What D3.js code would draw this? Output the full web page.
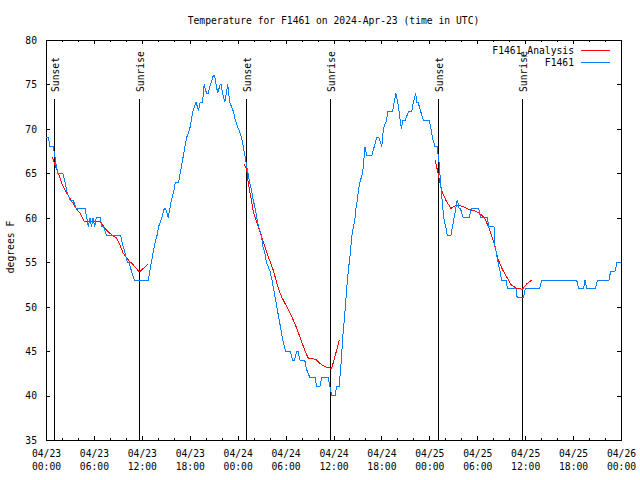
<!DOCTYPE html>
<html>
<head>
<meta charset="utf-8">
<script src="https://cdn.jsdelivr.net/npm/d3@7"></script>
<style>
  html, body { margin: 0; padding: 0; background: #fff; }
  svg { display: block; }
  text { font-family: "DejaVu Sans Mono", monospace; font-size: 9.7px; fill: #000; }
</style>
</head>
<body>
<svg id="chart" width="640" height="480"></svg>
<script>
// ---------- DATA ----------
const title = "Temperature for F1461 on 2024-Apr-23 (time in UTC)";
const yLabel = "degrees F";
const startUTC = Date.UTC(2024, 3, 23, 0, 0);
const endUTC = Date.UTC(2024, 3, 26, 0, 0);
const yTicks = [35, 40, 45, 50, 55, 60, 65, 70, 75, 80];
const xMajorHours = [0, 6, 12, 18, 24, 30, 36, 42, 48, 54, 60, 66, 72];
const seriesNames = ["F1461_Analysis", "F1461"];
const seriesColors = ["#ff0000", "#0080ff"];

// sun events: [hours since 04/23 00:00 UTC, label]
const sunEvents = [
  [1.04, "Sunset"], [11.68, "Sunrise"],
  [25.08, "Sunset"], [35.6, "Sunrise"],
  [49.12, "Sunset"], [59.64, "Sunrise"]
];

// observed temperature F1461: [hour, degF]
const observed = [
[0.0,69],[0.3,69],[0.5,68],[0.9,68],[1.1,67],[1.25,66],[1.5,65],[2.1,65],[2.4,64],[2.6,63],
[3.0,62],[3.4,62],[3.8,61],[4.9,61],[5.1,60],[5.3,59],[5.5,60],[5.7,59],[5.9,60],[6.1,59],
[6.3,60],[6.8,60],[7.0,59],[7.2,59],[7.6,58],[9.35,58],[9.6,57],[9.9,56],[10.2,55],[10.4,55],
[10.7,54],[11.05,53],[12.8,53],[13.0,54],[13.2,55],[13.4,56],[13.6,57],[13.9,58],[14.1,59],[14.5,60],
[14.8,61],[15.0,61],[15.3,60],[15.5,61],[15.7,62],[16.0,63],[16.2,64],[16.6,64],[16.8,65],[17.0,66],
[17.2,67],[17.4,68],[17.6,69],[18.0,70],[18.2,71],[18.4,72],[18.8,73],[19.1,72],[19.3,73],[19.6,73],
[19.8,75],[20.1,74],[20.3,74],[20.6,75],[20.95,76],[21.1,76],[21.3,75],[21.5,74],[21.8,75],[21.95,75],
[22.1,74],[22.4,73],[22.75,75],[23.0,73],[23.45,72],[23.7,71],[24.1,70],[24.5,69],[24.7,68],[24.9,67],
[25.1,66],[25.3,65],[25.5,64],[25.75,63],[25.95,62],[26.2,61],[26.4,60],[26.6,59],[27.0,58],[27.1,57],
[27.4,56],[27.6,55],[28.05,54],[28.3,53],[28.5,52],[28.7,51],[28.9,50],[29.1,49],[29.3,48],[29.5,47],
[29.7,46],[30.0,45],[30.55,45],[30.9,44],[31.1,44],[31.4,45],[31.55,45],[31.8,44],[32.4,44],[32.6,43],
[33.05,42],[33.7,42],[33.9,41],[34.3,41],[34.5,42],[35.35,42],[35.55,41],[35.8,40],[36.2,40],[36.4,41],
[36.7,41],[36.9,43],[37.2,47],[37.4,49],[37.65,52],[37.85,54],[38.1,56],[38.3,58],[38.5,59],[38.7,60],
[38.8,61],[39.0,62],[39.1,63],[39.3,64],[39.65,65],[39.95,68],[40.15,67],[40.8,67],[41.1,68],[41.4,69],
[41.7,69],[42.05,68],[42.25,70],[42.65,71],[42.8,72],[43.4,72],[43.6,73],[43.8,74],[44.05,73],[44.2,72],
[44.5,70],[44.7,71],[45.0,71],[45.4,72],[45.8,72],[46.0,73],[46.3,74],[46.4,73],[46.6,73],[46.9,72],
[47.25,71],[48.0,71],[48.2,70],[48.4,69],[48.7,68],[49.0,68],[49.1,67],[49.25,66],[49.4,64],[49.6,62],
[49.8,60],[50.05,59],[50.25,58],[50.7,58],[50.9,59],[51.1,60],[51.3,61],[51.5,62],[51.75,61],[51.9,61],
[52.25,60],[53.0,60],[53.25,61],[54.2,61],[54.4,60],[55.3,60],[55.4,59],[56.1,59],[56.2,57],[56.4,56],
[56.6,55],[56.85,54],[57.05,53],[57.6,53],[57.8,52],[58.85,52],[59.0,51],[59.8,51],[60.0,52],[61.8,52],
[62.1,53],[66.45,53],[66.7,52],[67.3,52],[67.5,53],[67.7,52],[68.8,52],[69.05,53],[70.5,53],[70.7,54],
[71.25,54],[71.5,55],[72.0,55]
];

// analysis F1461_Analysis, three separate runs: [hour, degF]
const analysisRun1 = [
[0.79,66.8],[1.13,65.9],[1.54,65.0],[1.97,63.9],[2.59,62.75],[3.0,62.2],[3.63,61.25],[4.26,60.5],
[4.8,59.6],[6.76,59.6],[7.39,58.8],[8.0,58.25],[8.85,57.7],[9.27,56.9],[9.68,56.0],[10.3,55.25],
[10.93,54.7],[11.68,53.9],[12.81,54.8]
];
const analysisRun2 = [
[24.83,66.0],[25.13,65.4],[25.33,63.9],[25.63,62.4],[25.96,60.7],[26.38,59.56],[26.8,58.4],[27.2,57.3],
[27.84,55.6],[28.46,54.1],[29.09,52.07],[29.5,51.1],[30.14,50.0],[30.77,48.9],[31.39,47.6],[32.0,46.06],
[32.56,44.75],[32.85,44.2],[33.8,44.08],[34.3,43.6],[34.94,43.25],[35.77,43.06],[36.19,44.4],[36.73,46.3]
];
const analysisRun3 = [
[48.71,66.5],[49.0,65.4],[49.34,63.9],[49.67,62.75],[50.17,61.8],[50.71,61.06],[51.13,61.3],[51.63,61.4],
[52.25,61.25],[53.1,60.9],[53.93,60.7],[54.56,60.3],[54.97,59.9],[55.39,59.0],[55.81,58.0],[56.22,56.75],
[56.64,55.25],[57.15,54.2],[57.77,53.2],[58.3,52.4],[58.94,52.07],[59.65,51.95],[60.19,52.55],[60.82,53.0]
];

// ---------- CHART ----------
const W = 640, H = 480;
const m = { left: 46, right: 19, top: 40, bottom: 40 };
const hourMs = 3600 * 1000;
const toDate = h => new Date(startUTC + h * hourMs);

const svg = d3.select("#chart");
const x = d3.scaleUtc().domain([new Date(startUTC), new Date(endUTC)]).range([m.left, W - m.right]);
const y = d3.scaleLinear().domain([35, 80]).range([H - m.bottom, m.top]);

const majorDates = xMajorHours.map(toDate);
const minorDates = d3.range(0, 73, 2).filter(h => h % 6 !== 0).map(toDate);
const fmtDate = d3.utcFormat("%m/%d");
const fmtTime = d3.utcFormat("%H:%M");

const TMAJ = 4, TMIN = 2;

function styleAxis(g) {
  g.select(".domain").remove();
  g.selectAll("line").attr("stroke", "#000").attr("shape-rendering", "crispEdges");
}

// bottom major with labels
const gB = svg.append("g").attr("transform", `translate(0,${H - m.bottom})`)
  .call(d3.axisBottom(x).tickValues(majorDates).tickSizeInner(-TMAJ).tickSizeOuter(0).tickFormat(""));
styleAxis(gB);
gB.selectAll(".tick text").remove();
gB.selectAll(".tick").append("text")
  .attr("text-anchor", "middle")
  .each(function(d) {
    const t = d3.select(this);
    t.append("tspan").attr("x", 0).attr("y", 17).text(fmtDate(d));
    t.append("tspan").attr("x", 0).attr("y", 30).text(fmtTime(d));
  });
// bottom minor
styleAxis(svg.append("g").attr("transform", `translate(0,${H - m.bottom})`)
  .call(d3.axisBottom(x).tickValues(minorDates).tickSizeInner(-TMIN).tickSizeOuter(0).tickFormat("")));
// top major/minor
styleAxis(svg.append("g").attr("transform", `translate(0,${m.top})`)
  .call(d3.axisTop(x).tickValues(majorDates).tickSizeInner(-TMAJ).tickSizeOuter(0).tickFormat("")));
styleAxis(svg.append("g").attr("transform", `translate(0,${m.top})`)
  .call(d3.axisTop(x).tickValues(minorDates).tickSizeInner(-TMIN).tickSizeOuter(0).tickFormat("")));
// left with labels
const gL = svg.append("g").attr("transform", `translate(${m.left},0)`)
  .call(d3.axisLeft(y).tickValues(yTicks).tickSizeInner(-TMAJ).tickSizeOuter(0).tickPadding(9).tickFormat(d3.format("d")));
styleAxis(gL);
gL.selectAll(".tick text").attr("font-size", null).attr("font-family", null).attr("fill", "#000").attr("dy", "0.35em");
// right
styleAxis(svg.append("g").attr("transform", `translate(${W - m.right},0)`)
  .call(d3.axisRight(y).tickValues(yTicks).tickSizeInner(-TMAJ).tickSizeOuter(0).tickFormat("")));
gB.selectAll("text").attr("font-size", null).attr("font-family", null);

// frame
svg.append("rect")
  .attr("x", m.left).attr("y", m.top)
  .attr("width", W - m.left - m.right).attr("height", H - m.top - m.bottom)
  .attr("fill", "none").attr("stroke", "#000").attr("shape-rendering", "crispEdges");

// sun lines
const sun = svg.append("g");
sunEvents.forEach(([h, lab]) => {
  const px = x(toDate(h));
  sun.append("line").attr("x1", px).attr("x2", px).attr("y1", 99).attr("y2", H - m.bottom)
    .attr("stroke", "#000").attr("shape-rendering", "crispEdges");
  sun.append("text").attr("transform", `translate(${px + 4.5},92) rotate(-90)`)
    .attr("text-anchor", "start").text(lab);
});

// lines
const line = d3.line().x(d => x(toDate(d[0]))).y(d => y(d[1]));
[analysisRun1, analysisRun2, analysisRun3].forEach(run => {
  svg.append("path").datum(run).attr("d", line)
    .attr("fill", "none").attr("stroke", seriesColors[0]).attr("stroke-width", 1)
    .attr("shape-rendering", "crispEdges");
});
svg.append("path").datum(observed).attr("d", line)
  .attr("fill", "none").attr("stroke", seriesColors[1]).attr("stroke-width", 1)
  .attr("shape-rendering", "crispEdges");

// legend
const leg = svg.append("g");
seriesNames.forEach((name, i) => {
  const ly = 50 + i * 12.5;
  leg.append("text").attr("x", 574).attr("y", ly + 3.5).attr("text-anchor", "end").text(name);
  leg.append("line").attr("x1", 581).attr("x2", 610).attr("y1", ly).attr("y2", ly)
    .attr("stroke", seriesColors[i]).attr("shape-rendering", "crispEdges");
});

// title & y label
svg.append("text").attr("x", (m.left + W - m.right) / 2).attr("y", 23.5)
  .attr("text-anchor", "middle").text(title);
svg.append("text").attr("transform", `translate(13.5,247) rotate(-90)`)
  .attr("text-anchor", "middle").text(yLabel);
</script>
</body>
</html>
